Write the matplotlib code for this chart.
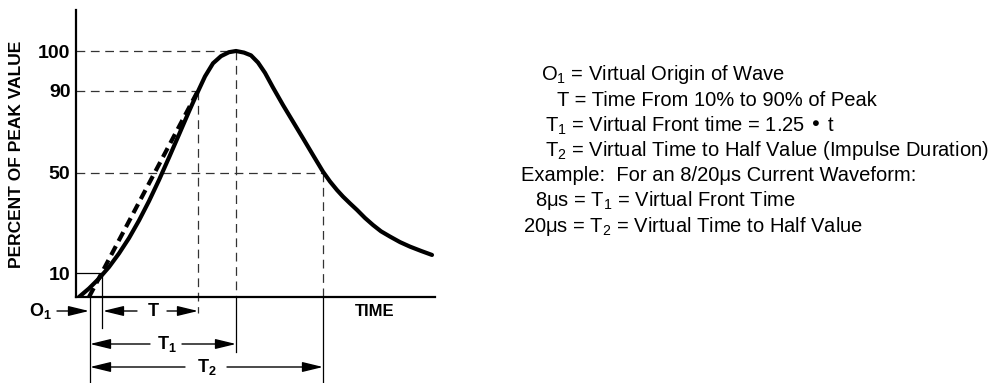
import numpy as np
import matplotlib.pyplot as plt

plt.rcParams['font.family'] = ['Liberation Sans', 'DejaVu Sans']
plt.rcParams['mathtext.default'] = 'regular'

# impulse waveform (time in arbitrary units, % of peak)
wave_t = [3, 13, 23, 33, 43, 53, 63, 73, 83, 93, 103, 113, 121, 129, 137,
          145, 153, 160, 168, 175, 182, 189, 197, 207, 217, 227, 237, 247,
          254, 261, 267, 274, 281, 289, 297, 305, 314, 324, 334, 345, 356]
wave_pct = [0, 3.6, 7.8, 12.5, 17.9, 24.0, 31.0, 38.7, 47.1, 57.4, 68.6,
            79.9, 88.6, 93.6, 96.9, 98.7, 99.7, 100, 99.6, 98.9, 97.1, 94.5,
            90.8, 83.0, 74.9, 66.8, 58.6, 50.5, 46.5, 43.1, 40.5, 37.8, 35.2,
            32.0, 29.2, 26.7, 24.6, 22.4, 20.6, 18.9, 17.3]

# virtual front line, O1 through the 90 % point
front_t = [13, 122]
front_pct = [0, 90]

# key instants on the time axis
t_o1 = 14
t_10 = 26
t_90 = 122
t_peak = 160
t_half = 247

tick_pct = [10, 50, 90, 100]
tick_labels = ['10', '50', '90', '100']

# the vertical axis of the sketch is not drawn to scale
scale_pct = [-100, 0, 10, 50, 90, 100, 200]
scale_h = [-237, 0, 23.7, 124.3, 206.3, 246, 643]

legend_lines = [
    'O$_1$ = Virtual Origin of Wave',
    'T = Time From 10% to 90% of Peak',
    'T$_1$ = Virtual Front time = 1.25 \u2022 t',
    'T$_2$ = Virtual Time to Half Value (Impulse Duration)',
    'Example:  For an 8/20\u03bcs Current Waveform:',
    '8\u03bcs = T$_1$ = Virtual Front Time',
    '20\u03bcs = T$_2$ = Virtual Time to Half Value',
]
legend_x = [541, 557, 545, 545, 521, 535, 523]


def fwd(p):
    return np.interp(p, scale_pct, scale_h)


def inv(h):
    return np.interp(h, scale_h, scale_pct)


def drop(px):
    # a level px pixels under the time axis
    return float(inv(-px))


fig = plt.figure(figsize=(9.93, 3.83), dpi=100)
ax = fig.add_axes([76 / 993, 86 / 383, 359 / 993, 287 / 383])
ax.set_yscale('function', functions=(fwd, inv))
ax.set_xlim(0, 359)
ax.set_ylim(0, float(inv(287)))

for s in ['top', 'right']:
    ax.spines[s].set_visible(False)
for s in ['left', 'bottom']:
    ax.spines[s].set_linewidth(1.6)
ax.set_xticks([])
ax.set_yticks(tick_pct)
ax.set_yticklabels(tick_labels, fontsize=14, fontweight='bold')
ax.yaxis.set_minor_locator(plt.NullLocator())
ax.tick_params(axis='y', length=0, pad=4)

fig.text(17 / 993, 1 - 154 / 383, 'PERCENT OF PEAK VALUE', rotation=90,
         ha='center', va='center', fontsize=12.5, fontweight='bold')

# dashed guides
guide = dict(color='#333333', lw=0.9, linestyle=(0, (7, 4.5)), clip_on=False)
ax.plot([0, t_peak], [100, 100], **guide)
ax.plot([0, t_90], [90, 90], **guide)
ax.plot([0, t_half], [50, 50], **guide)
ax.plot([t_90, t_90], [90, drop(16)], **guide)
ax.plot([t_peak, t_peak], [100, 0], **guide)
ax.plot([t_half, t_half], [50, 0], **guide)

# thin solid guides
thin = dict(color='black', lw=0.9, clip_on=False)
ax.plot([0, t_10], [10, 10], **thin)
ax.plot([t_10, t_10], [10, drop(31)], **thin)
ax.plot([t_o1, t_o1], [0, drop(86)], **thin)
ax.plot([t_peak, t_peak], [0, drop(55)], **thin)
ax.plot([t_half, t_half], [0, drop(86)], **thin)

# waveform and its virtual front
ax.plot(front_t, front_pct, color='black', lw=3, linestyle=(0, (2.4, 1.4)))
ax.plot(wave_t, wave_pct, color='black', lw=3, solid_capstyle='round',
        solid_joinstyle='round')


def arrow(t0, t1, y):
    ax.annotate('', xy=(t1, y), xytext=(t0, y), annotation_clip=False,
                arrowprops=dict(arrowstyle='-|>,head_length=0.7,head_width=0.17',
                                color='black', lw=1, shrinkA=0, shrinkB=0,
                                mutation_scale=18))


def label(t, y, s):
    ax.text(t, y, s, ha='center', va='center', fontsize=13,
            fontweight='bold', clip_on=False)


y_t, y_t1, y_t2 = drop(14), drop(47), drop(70)
arrow(-19, t_o1 - 1, y_t)
label(-36, y_t, 'O$_1$')
arrow(61, t_10 + 1, y_t)
label(77, y_t, 'T')
arrow(91, t_90, y_t)
arrow(74, t_o1, y_t1)
label(91, y_t1, 'T$_1$')
arrow(106, t_peak, y_t1)
arrow(109, t_o1, y_t2)
label(131, y_t2, 'T$_2$')
arrow(151, t_half, y_t2)
ax.text(299, y_t, 'TIME', ha='center', va='center', fontsize=12,
        fontweight='bold', clip_on=False)

# explanation block
for i, (s, x) in enumerate(zip(legend_lines, legend_x)):
    fig.text(x / 993, 1 - (75 + 25.2 * i) / 383, s, ha='left', va='center',
             fontsize=14.5)

fig.savefig('out.png', dpi=100)
